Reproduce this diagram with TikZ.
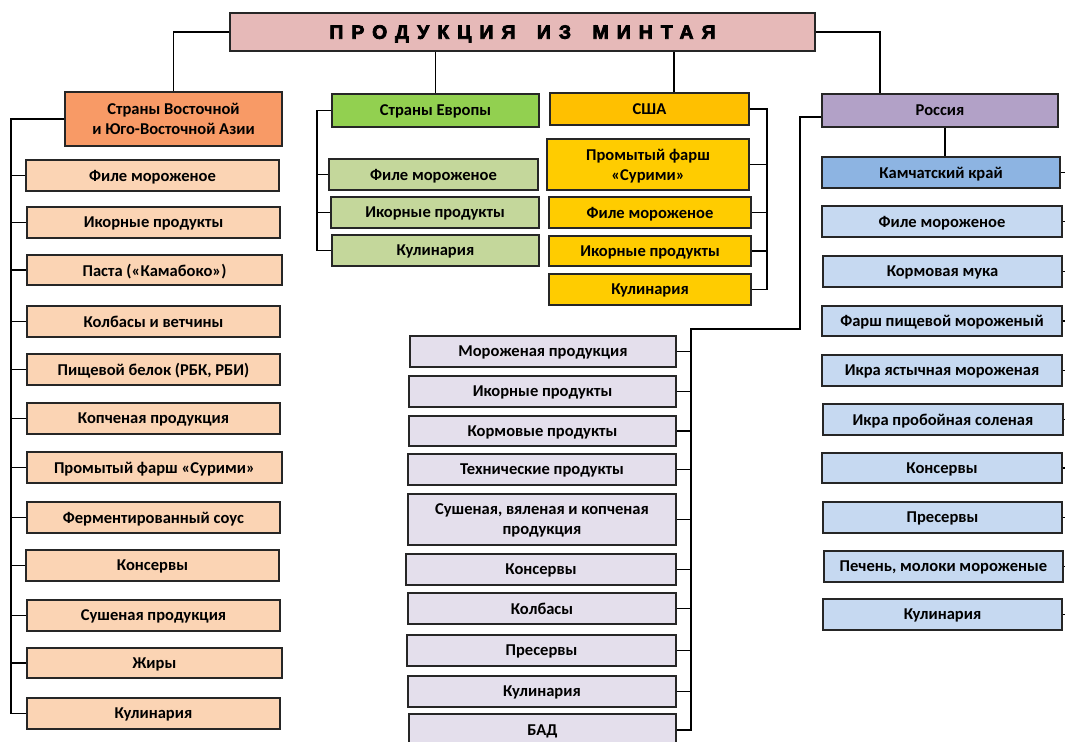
\documentclass[tikz,border=0pt]{standalone}
\usepackage{fontspec}
\setmainfont{Carlito}
\newfontfamily\titlefont[LetterSpace=42, BoldFeatures={FakeBold=4}]{Liberation Sans}
\definecolor{ctitle}{HTML}{E6B9B8}
\definecolor{casia}{HTML}{F89A66}
\definecolor{casiai}{HTML}{FBD4B4}
\definecolor{ceu}{HTML}{92D050}
\definecolor{ceui}{HTML}{C4D79B}
\definecolor{cusa}{HTML}{FFC000}
\definecolor{cusai}{HTML}{FFCC00}
\definecolor{cru}{HTML}{B2A1C7}
\definecolor{ckam}{HTML}{8DB4E2}
\definecolor{crui}{HTML}{C6D9F1}
\definecolor{clav}{HTML}{E4DFEC}
\definecolor{cbord}{HTML}{262626}
\tikzset{
  box/.style={draw=cbord, line width=1.3pt, inner sep=0pt, align=center,
    text depth=0pt, font=\bfseries\fontsize{12.4}{15}\selectfont, text=black},
  conn/.style={line width=1.2pt, draw=black},
  ttl/.style={box, fill=ctitle, font=\titlefont\bfseries\fontsize{14.5}{17}\selectfont},
  asiah/.style={box, fill=casia},
  asiai/.style={box, fill=casiai},
  euh/.style={box, fill=ceu},
  eui/.style={box, fill=ceui},
  usah/.style={box, fill=cusa},
  usai/.style={box, fill=cusai},
  ruh/.style={box, fill=cru},
  kamh/.style={box, fill=ckam},
  rui/.style={box, fill=crui},
  lavi/.style={box, fill=clav}
}
\newcommand\bx[7]{\node[#2, minimum width={(#5-#3)*0.75pt}, minimum height={(#6-#4)*0.75pt}] (#1) at ({(#3+#5)/2},{(#4+#6)/2}) {#7};}
\begin{document}
\begin{tikzpicture}[x=0.75pt,y=-0.75pt]
\clip (0,0) rectangle (1065,742);
\fill[white] (0,0) rectangle (1065,742);
% title
\bx{title}{ttl}{230}{13}{815}{51}{ПРОДУКЦИЯ\hspace{6pt} ИЗ\hspace{6pt} МИНТАЯ}
% Asia
\bx{asia}{asiah}{65}{92}{282}{146}{Страны Восточной\\и Юго-Восточной Азии}
\bx{a1}{asiai}{26}{160}{279}{191}{Филе мороженое}
\bx{a2}{asiai}{27}{207}{280}{238}{Икорные продукты}
\bx{a3}{asiai}{27}{255}{282}{285}{Паста («Камабоко»)}
\bx{a4}{asiai}{27}{306}{280}{337}{Колбасы и ветчины}
\bx{a5}{asiai}{27}{354}{280}{385}{Пищевой белок (РБК, РБИ)}
\bx{a6}{asiai}{27}{403}{280}{434}{Копченая продукция}
\bx{a7}{asiai}{27}{452}{282}{483}{Промытый фарш «Сурими»}
\bx{a8}{asiai}{27}{502}{280}{533}{Ферментированный соус}
\bx{a9}{asiai}{26}{550}{279}{581}{Консервы}
\bx{a10}{asiai}{27}{600}{280}{631}{Сушеная продукция}
\bx{a11}{asiai}{27}{648}{282}{678}{Жиры}
\bx{a12}{asiai}{27}{698}{280}{729}{Кулинария}
% Europe
\bx{eu}{euh}{332}{94}{539}{127}{Страны Европы}
\bx{e1}{eui}{329}{159}{538}{190}{Филе мороженое}
\bx{e2}{eui}{331}{197}{539}{228}{Икорные продукты}
\bx{e3}{eui}{332}{235}{539}{266}{Кулинария}
% USA
\bx{usa}{usah}{550}{93}{749}{125}{США}
\bx{u1}{usai}{547}{139}{749}{190}{Промытый фарш\\«Сурими»}
\bx{u2}{usai}{549}{197}{751}{228}{Филе мороженое}
\bx{u3}{usai}{549}{236}{751}{266}{Икорные продукты}
\bx{u4}{usai}{549}{274}{751}{305}{Кулинария}
% Russia
\bx{ru}{ruh}{822}{94}{1058}{127}{Россия}
\bx{kam}{kamh}{822}{157}{1060}{188}{Камчатский край}
\bx{r1}{rui}{822}{206}{1062}{237}{Филе мороженое}
\bx{r2}{rui}{823}{256}{1062}{287}{Кормовая мука}
\bx{r3}{rui}{822}{306}{1062}{336}{Фарш пищевой мороженый}
\bx{r4}{rui}{822}{355}{1062}{386}{Икра ястычная мороженая}
\bx{r5}{rui}{823}{404}{1063}{435}{Икра пробойная соленая}
\bx{r6}{rui}{822}{453}{1062}{483}{Консервы}
\bx{r7}{rui}{823}{502}{1062}{533}{Пресервы}
\bx{r8}{rui}{824}{551}{1063}{582}{Печень, молоки мороженые}
\bx{r9}{rui}{823}{599}{1062}{630}{Кулинария}
% lavender column
\bx{l1}{lavi}{410}{336}{676}{367}{Мороженая продукция}
\bx{l2}{lavi}{409}{376}{676}{407}{Икорные продукты}
\bx{l3}{lavi}{409}{416}{676}{446}{Кормовые продукты}
\bx{l4}{lavi}{408}{454}{676}{485}{Технические продукты}
\bx{l5}{lavi}{408}{494}{676}{545}{Сушеная, вяленая и копченая\\продукция}
\bx{l6}{lavi}{406}{554}{676}{585}{Консервы}
\bx{l7}{lavi}{408}{593}{676}{624}{Колбасы}
\bx{l8}{lavi}{407}{635}{676}{666}{Пресервы}
\bx{l9}{lavi}{408}{676}{676}{707}{Кулинария}
\bx{l10}{lavi}{409}{714}{676}{746}{БАД}
% helper coordinates
\coordinate (ux) at (674,0);
\coordinate (rx) at (880,0);
\coordinate (kx) at (945,0);
\coordinate (ab) at (11,0);
\coordinate (eb) at (317,0);
\coordinate (ub) at (767,0);
\coordinate (rjy) at (0,117);
\coordinate (rj) at (800,329);
\coordinate (lb) at (691,329);
\coordinate (rb) at (1080,0);
% top connectors
\draw[conn] (title.west) -| (asia.north);
\draw[conn] (eu.north) -- (eu.north |- title.south);
\draw[conn] (usa.north -| ux) -- (title.south -| ux);
\draw[conn] (title.east) -| (ru.north -| rx);
\draw[conn] (ru.south -| kx) -- (kam.north -| kx);
% Asia bus
\draw[conn] (asia.west) -| (ab |- a12.west) -- (a12.west);
\foreach \i in {1,...,11} \draw[conn] (ab |- a\i.west) -- (a\i.west);
% Europe bus
\draw[conn] (eu.west) -| (eb |- e3.west) -- (e3.west);
\foreach \i in {1,2} \draw[conn] (eb |- e\i.west) -- (e\i.west);
% USA bus
\draw[conn] (usa.east) -| (ub |- u4.east) -- (u4.east);
\foreach \i in {1,2,3} \draw[conn] (ub |- u\i.east) -- (u\i.east);
% Russia to lavender bus
\draw[conn] (ru.west |- rjy) -| (rj) -- (lb) -- (lb |- l10.east) -- (l10.east);
\foreach \i in {1,...,9} \draw[conn] (lb |- l\i.east) -- (l\i.east);
% right stubs
\draw[conn] (kam.east) -- (rb |- kam.east);
\foreach \i in {1,...,9} \draw[conn] (r\i.east) -- (rb |- r\i.east);
\end{tikzpicture}
\end{document}
